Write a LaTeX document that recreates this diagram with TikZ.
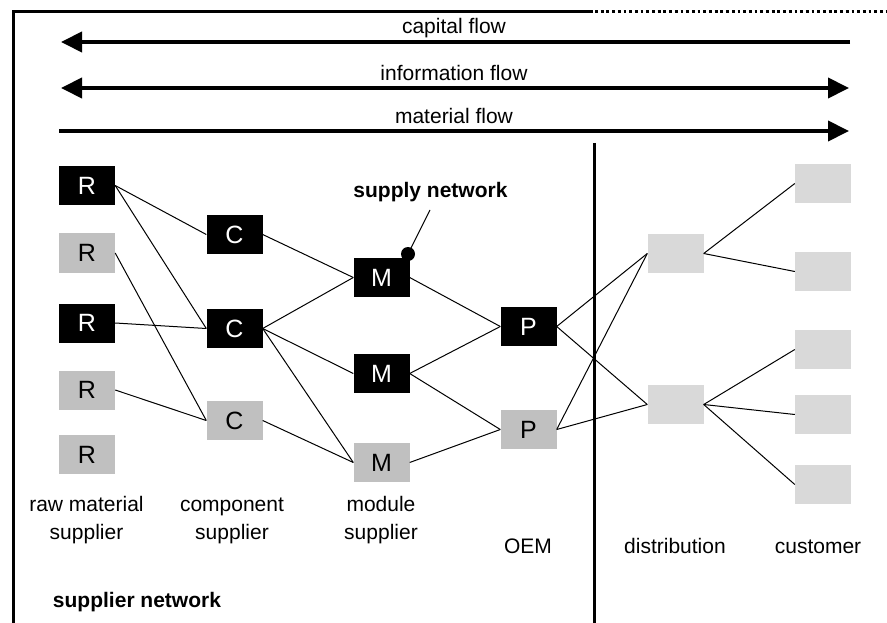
\documentclass[tikz,border=0pt]{standalone}
\usepackage{fontspec}
\setmainfont{Liberation Sans}
\usetikzlibrary{arrows.meta}
\definecolor{midgray}{RGB}{192,192,192}
\definecolor{lightgray2}{RGB}{217,217,217}
\begin{document}
\begin{tikzpicture}[x=1pt,y=-1pt,
  box/.style={minimum width=56pt,minimum height=39pt,inner sep=0pt,font=\fontsize{25}{30}\selectfont},
  blackbox/.style={box,fill=black,text=white},
  graybox/.style={box,fill=midgray,text=black},
  lightbox/.style={box,fill=lightgray2},
  conn/.style={line width=1pt},
  flow/.style={line width=4pt},
  lbl/.style={font=\fontsize{21}{28}\selectfont,inner sep=0pt,anchor=base,align=center},
  blbl/.style={lbl,font=\fontsize{21}{28}\selectfont\bfseries}]
\useasboundingbox (0,0) rectangle (887,623);
% frame
\coordinate (ftl) at (13,11.5);
\coordinate (fbl) at (13,626);
\coordinate (ftm) at (593,11.5);
\coordinate (fdm) at (595,11.5);
\coordinate (ftr) at (890,11.5);
\draw[line width=3pt] (fbl) -- (ftl) -- (ftm);
\draw[line width=2.8pt,dash pattern=on 2.8pt off 2.9pt] (fdm) -- (ftr);
\coordinate (dvt) at (594,143);
\coordinate (dvb) at (594,626);
\draw[line width=3pt] (dvt) -- (dvb);
% flows
\coordinate (capL) at (61,42);
\coordinate (capR) at (850,42);
\coordinate (infL) at (61,88);
\coordinate (infR) at (849,88);
\coordinate (matL) at (59,131);
\coordinate (matR) at (849,131);
\draw[flow,-{Triangle[length=21pt,width=20pt]}] (capR) -- (capL);
\draw[flow,{Triangle[length=21pt,width=20pt]}-{Triangle[length=21pt,width=20pt]}] (infL) -- (infR);
\draw[flow,-{Triangle[length=21pt,width=20pt]}] (matL) -- (matR);
\node[lbl] (capt) at (454,34) {capital flow};
\node[lbl] (inft) at (454,81) {information flow};
\node[lbl] (matt) at (454,124) {material flow};
% boxes
\node[blackbox] (R1) at (87,185.5) {R};
\node[graybox]  (R2) at (87,253) {R};
\node[blackbox] (R3) at (87,323) {R};
\node[graybox]  (R4) at (87,390) {R};
\node[graybox]  (R5) at (87,454.5) {R};
\node[blackbox] (C1) at (234.5,234.5) {C};
\node[blackbox] (C2) at (234.5,328.5) {C};
\node[graybox]  (C3) at (234.5,420.5) {C};
\node[blackbox] (M1) at (381.5,277.5) {M};
\node[blackbox] (M2) at (381.5,373.5) {M};
\node[graybox]  (M3) at (381.5,462.5) {M};
\node[blackbox] (P1) at (528.5,326.5) {P};
\node[graybox]  (P2) at (528.5,429.5) {P};
\node[lightbox] (D1) at (675.5,253.5) {};
\node[lightbox] (D2) at (675.5,404.5) {};
\node[lightbox] (K1) at (823,183.5) {};
\node[lightbox] (K2) at (823,271.5) {};
\node[lightbox] (K3) at (823,349.5) {};
\node[lightbox] (K4) at (823,414.5) {};
\node[lightbox] (K5) at (823,484.5) {};
% connectors
\draw[conn] (R1.east) -- (C1.west);
\draw[conn] (R1.east) -- (C2.west);
\draw[conn] (R2.east) -- (C3.west);
\draw[conn] (R3.east) -- (C2.west);
\draw[conn] (R4.east) -- (C3.west);
\draw[conn] (C1.east) -- (M1.west);
\draw[conn] (C2.east) -- (M1.west);
\draw[conn] (C2.east) -- (M2.west);
\draw[conn] (C2.east) -- (M3.west);
\draw[conn] (C3.east) -- (M3.west);
\draw[conn] (M1.east) -- (P1.west);
\draw[conn] (M2.east) -- (P1.west);
\draw[conn] (M2.east) -- (P2.west);
\draw[conn] (M3.east) -- (P2.west);
\draw[conn] (P1.east) -- (D1.west);
\draw[conn] (P1.east) -- (D2.west);
\draw[conn] (P2.east) -- (D1.west);
\draw[conn] (P2.east) -- (D2.west);
\draw[conn] (D1.east) -- (K1.west);
\draw[conn] (D1.east) -- (K2.west);
\draw[conn] (D2.east) -- (K3.west);
\draw[conn] (D2.east) -- (K4.west);
\draw[conn] (D2.east) -- (K5.west);
% supply network callout
\node[circle,fill=black,minimum size=14pt,inner sep=0pt] (dot) at (408,254) {};
\coordinate (sntip) at (430,210);
\draw[conn] (dot.center) -- (sntip);
\node[blbl] (snl) at (430.5,198) {supply network};
% bottom labels
\node[lbl] (lr) at (86.5,539) {raw material\\supplier};
\node[lbl] (lc) at (232,539) {component\\supplier};
\node[lbl] (lm) at (381,539) {module\\supplier};
\node[lbl] (lo) at (528,553) {OEM};
\node[lbl] (ld) at (675,553) {distribution};
\node[lbl] (lk) at (818,553) {customer};
\node[blbl] (lsn) at (137,607) {supplier network};
\end{tikzpicture}
\end{document}
